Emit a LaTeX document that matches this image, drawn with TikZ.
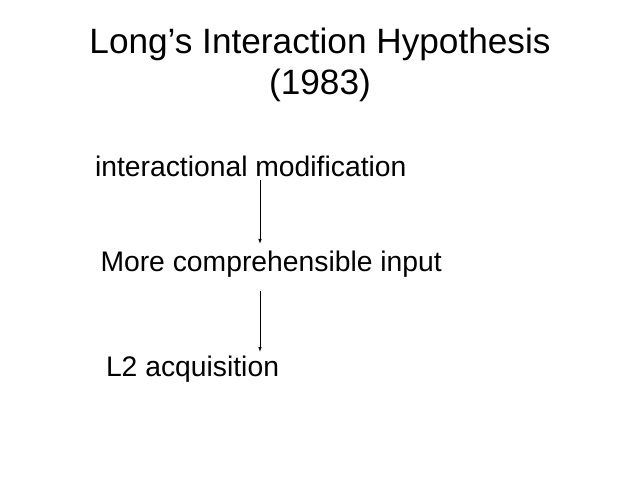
\documentclass[tikz,border=0pt]{standalone}
\usepackage{fontspec}
\setmainfont{Liberation Sans}
\usetikzlibrary{arrows.meta}

\begin{document}
\begin{tikzpicture}[x=1pt,y=1pt,
    title/.style={anchor=base, inner sep=0pt, font=\fontsize{35.2}{40}\selectfont},
    item/.style={anchor=base west, inner sep=3.3pt, font=\fontsize{28.3}{32}\selectfont},
    flow/.style={-{Latex[length=5pt,width=3.5pt]}, line width=0.8pt}]
      \useasboundingbox (0,0) rectangle (640,-480);

      % title
      \node[title]      (t1) at (320,-53) {Long’s Interaction Hypothesis};
      \node[title]      (t2) at (320,-94) {(1983)};

      % chain
      \node[item]       (im) at (91.5,-176) {interactional modification};
      \node[item]       (ci) at (97,-271) {More comprehensible input};
      \node[item]       (l2) at (102.5,-376) {L2 acquisition};
      \coordinate       (ax) at (260,0);

      \draw[flow, shorten >=3pt]  (im.south -| ax) -- (ci.north -| ax);
      \draw[flow, shorten <=11pt] (ci.south -| ax) -- (l2.north -| ax);
    \end{tikzpicture}
\end{document}
